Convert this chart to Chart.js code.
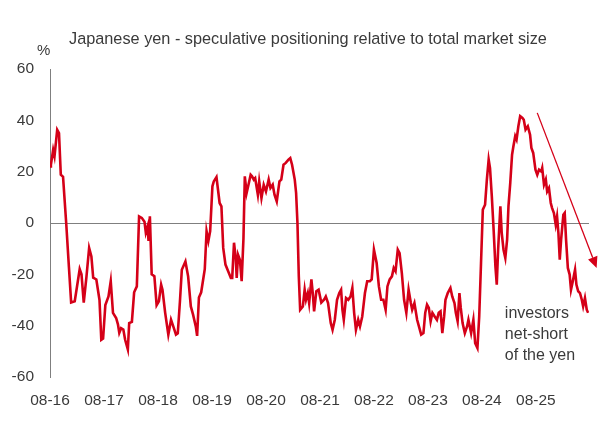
<!DOCTYPE html>
<html>
<head>
<meta charset="utf-8">
<script src="https://cdn.jsdelivr.net/npm/chart.js@4.4.1/dist/chart.umd.min.js"></script>
<style>
  html, body { margin: 0; padding: 0; background: #fff; }
  #wrap { width: 601px; height: 430px; position: relative; }
</style>
</head>
<body>
<div id="wrap"><canvas id="chart"></canvas></div>
<script>
// months since Aug 2016
const months = [
  0, 0.2, 0.7, 1.0, 1.6, 2.0, 2.4, 2.9, 3.6, 4.2, 4.7, 5.5, 6.6, 7.0, 7.5, 8.1, 8.7, 9.2, 9.6, 10.3,
  11.0, 11.4, 11.8, 12.3, 13.0, 13.5, 14.0, 14.7, 15.1, 15.4, 15.8, 16.3, 16.7, 17.3, 17.6, 18.2, 18.7, 19.3,
  19.8, 20.4, 21.0, 21.3, 21.7, 21.9, 22.2, 22.6, 23.2, 23.7, 24.2, 24.7, 25.0, 25.6, 26.3, 26.9, 27.4, 28.0,
  28.4, 28.9, 29.3, 30.1, 30.7, 31.3, 31.8, 32.4, 32.7, 33.1, 33.6, 34.0, 34.4, 34.8, 35.2, 35.6, 36.1, 36.4,
  37.0, 37.2, 37.7, 38.1, 38.5, 39.0, 39.6, 40.2, 40.5, 40.9, 41.3, 41.5, 41.8, 42.2, 42.6, 43.0, 43.3, 43.7,
  44.2, 44.6, 44.9, 45.3, 45.6, 46.2, 46.5, 47.0, 47.5, 48.0, 48.6, 49.0, 49.5, 49.9, 50.4, 51.0, 51.4, 51.9,
  52.4, 53.0, 53.4, 53.8, 54.4, 54.7, 55.0, 55.3, 55.6, 56.2, 56.6, 56.9, 57.3, 57.6, 58.1, 58.4, 58.7, 59.2,
  59.7, 60.3, 60.9, 61.3, 61.8, 62.4, 62.8, 63.3, 63.8, 64.3, 64.7, 65.0, 65.3, 65.8, 66.3, 66.8, 67.2, 67.6,
  68.0, 68.5, 68.9, 69.4, 70.0, 70.5, 71.1, 71.5, 72.0, 72.6, 73.1, 73.6, 74.1, 74.6, 75.0, 75.5, 76.0, 76.4,
  76.8, 77.3, 77.7, 78.2, 78.7, 79.2, 79.7, 80.2, 80.5, 81.0, 81.6, 82.0, 82.5, 83.0, 83.4, 83.8, 84.2, 84.6,
  85.0, 85.5, 86.0, 86.4, 86.8, 87.2, 87.6, 87.9, 88.4, 89.0, 89.4, 89.9, 90.2, 90.6, 91.0, 91.3, 91.7, 92.2,
  92.7, 93.0, 93.6, 94.1, 94.5, 95.0, 95.4, 95.8, 96.2, 96.7, 97.1, 97.5, 97.8, 98.2, 98.6, 99.0, 99.3, 99.6,
  100.1, 100.4, 100.8, 101.2, 101.6, 101.9, 102.3, 102.7, 103.0, 103.4, 103.7, 104.1, 104.5, 105.0, 105.3,
  105.7, 106.2, 106.7, 107.0, 107.4, 107.9, 108.3, 108.7, 109.2, 109.4, 109.8, 110.2, 110.5, 110.9, 111.3,
  111.6, 112.0, 112.4, 112.7, 113.0, 113.3, 113.6, 114.1, 114.4, 114.7, 115.1, 115.5, 115.8, 116.2, 116.7,
  117.0, 117.4, 117.8, 118.2, 118.5, 118.9, 119.3, 119.6
];

// speculative positioning, % of total market size
const positioning = [
  22, 22.7, 28.5, 26, 36.3, 35, 18.8, 18, 0, -17, -31, -30.5, -18, -20, -31, -21, -9.7, -13, -21.3, -22,
  -30, -45.5, -45, -32, -28.6, -22.7, -35, -37, -39.5, -42.8, -41, -41.5, -45.5, -49.3, -39, -38.5, -27, -24.7,
  2.6, 2, 0.5, -3.8, -1.3, -7, 2.6, -20, -20.7, -32, -30.5, -24, -26, -35, -43.5, -37.7, -40.3, -43.5,
  -43, -30, -18.2, -15, -20.8, -32.5, -35.7, -40.3, -44, -29, -27, -22.5, -18, -3.2, -7, -3.2, 14.3, 16.2,
  17.9, 15, 7.8, 6.5, -9.7, -16.2, -18.8, -21.4, -21.4, -7.7, -14, -21.4, -12.4, -14.3, -22.7, -6, 18.2, 11.7,
  15.6, 18.8, 18.2, 16.9, 17.5, 11, 16.2, 9.7, 14.9, 12.3, 16.9, 13.6, 14.9, 11, 8.4, 16.2, 16.9, 22.7,
  23.4, 24.7, 25.3, 22.7, 16.9, 11.7, 0, -20.8, -33.8, -32.5, -26, -29.9, -27.3, -31.2, -22, -27.3, -34.4, -26.6,
  -26, -31, -29.9, -28.6, -31.2, -39, -41.6, -37.7, -29.9, -27.3, -26, -33.8, -37.7, -29.2, -29.9, -28.6, -25.3, -35,
  -41.6, -37.7, -40.3, -36.4, -27.3, -22.7, -22.7, -22, -10.4, -15.6, -24.7, -29.9, -29.9, -33.8, -24.7, -22, -20.8, -17.5,
  -18.8, -10.4, -11.7, -19.5, -29.9, -35, -26, -31.2, -33.8, -31.2, -37.7, -40.3, -43.5, -42.9, -35, -31.8, -33.1, -38.3,
  -35, -36.4, -37.7, -35, -34.4, -42.9, -36.4, -29.9, -27.3, -25.3, -28.6, -31.2, -35, -38.3, -27.3, -33.1, -39, -42.9,
  -40.3, -37.7, -42.9, -37.7, -46.8, -48.7, -36.4, -15.6, 5.2, 7.1, 16.9, 24.7, 21.4, 10.4, -2.6, -16.9, -24, -10.4,
  6.5, -3.9, -10.4, -13.6, -6.5, 6.5, 15.6, 26.6, 29.9, 33.8, 32.5, 37.7, 41.6, 40.9, 40.2,
  36.4, 37.7, 34.4, 29.2, 27.3, 20.8, 18.8, 20.8, 20.1, 21.4, 14.9, 16.9, 12.3, 13.6, 7.8,
  5.8, 3.9, -0.6, 2.6, -3.9, -14.3, -6.5, 3.2, 3.9, -6.5, -17.5, -20.1, -26, -22.7, -18.2,
  -24, -26.6, -27.3, -29.9, -32.5, -29.2, -33.8, -35
];

const tickMonths = [0, 12, 24, 36, 48, 60, 72, 84, 96, 108];
const tickLabels = ['08-16', '08-17', '08-18', '08-19', '08-20', '08-21', '08-22', '08-23', '08-24', '08-25'];
const yTicks = [-60, -40, -20, 0, 20, 40, 60];

const title = 'Japanese yen - speculative positioning relative to total market size';
const noteLines = ['investors', 'net-short', 'of the yen'];
// arrow in data units: [month, %]
const arrowFrom = [108.3, 42.9];
const arrowTo = [121.5, -17.5];
const noteAt = [101.1, -37];

const RED = '#d50018';
const TEXT = '#3a3a3a';
const FONT = '"Liberation Sans", Arial, sans-serif';

const extras = {
  id: 'extras',
  afterDraw(chart) {
    const { ctx, scales: { x, y } } = chart;
    ctx.save();
    ctx.fillStyle = TEXT;
    ctx.textBaseline = 'alphabetic';
    ctx.textAlign = 'left';
    ctx.font = '16.3px ' + FONT;
    ctx.fillText(title, 69, 44);
    ctx.font = '15px ' + FONT;
    ctx.fillText('%', 37, 55);

    ctx.font = '16px ' + FONT;
    const nx = x.getPixelForValue(noteAt[0]);
    const ny = y.getPixelForValue(noteAt[1]);
    noteLines.forEach((t, i) => ctx.fillText(t, nx, ny + i * 21));

    // trend arrow
    const x1 = x.getPixelForValue(arrowFrom[0]), y1 = y.getPixelForValue(arrowFrom[1]);
    const x2 = x.getPixelForValue(arrowTo[0]), y2 = y.getPixelForValue(arrowTo[1]);
    const ang = Math.atan2(y2 - y1, x2 - x1);
    const head = 11, half = 5;
    ctx.strokeStyle = RED;
    ctx.fillStyle = RED;
    ctx.lineWidth = 1.3;
    ctx.beginPath();
    ctx.moveTo(x1, y1);
    ctx.lineTo(x2 - head * Math.cos(ang), y2 - head * Math.sin(ang));
    ctx.stroke();
    ctx.beginPath();
    ctx.moveTo(x2, y2);
    ctx.lineTo(x2 - head * Math.cos(ang) + half * Math.sin(ang), y2 - head * Math.sin(ang) - half * Math.cos(ang));
    ctx.lineTo(x2 - head * Math.cos(ang) - half * Math.sin(ang), y2 - head * Math.sin(ang) + half * Math.cos(ang));
    ctx.closePath();
    ctx.fill();
    ctx.restore();
  }
};

new Chart(document.getElementById('chart'), {
  type: 'line',
  data: {
    datasets: [{
      data: months.map((m, i) => ({ x: m, y: positioning[i] })),
      borderColor: RED,
      borderWidth: 2.6,
      pointRadius: 0,
      tension: 0,
      fill: false
    }]
  },
  options: {
    responsive: true,
    maintainAspectRatio: false,
    animation: false,
    layout: { padding: { top: 69, right: 12, bottom: 20, left: 0 } },
    plugins: {
      legend: { display: false },
      tooltip: { enabled: false }
    },
    scales: {
      x: {
        type: 'linear',
        min: 0,
        max: 119.8,
        afterBuildTicks: (scale) => { scale.ticks = tickMonths.map(v => ({ value: v })); },
        afterFit: (scale) => { scale.height = 33; },
        grid: { display: false, drawTicks: false },
        border: { display: false },
        ticks: {
          padding: 14,
          maxRotation: 0,
          autoSkip: false,
          color: TEXT,
          font: { family: FONT, size: 15.5 },
          callback: (v) => tickLabels[tickMonths.indexOf(v)]
        }
      },
      y: {
        min: -60,
        max: 60,
        afterBuildTicks: (scale) => { scale.ticks = yTicks.map(v => ({ value: v })); },
        afterFit: (scale) => { scale.width = 50; },
        grid: {
          drawTicks: false,
          color: (c) => c.tick && c.tick.value === 0 ? '#7f7f7f' : 'rgba(0,0,0,0)',
          lineWidth: 1
        },
        border: { display: true, color: '#7f7f7f', width: 1 },
        ticks: {
          padding: 16,
          color: TEXT,
          font: { family: FONT, size: 15.5 }
        }
      }
    }
  },
  plugins: [extras]
});
</script>
</body>
</html>
